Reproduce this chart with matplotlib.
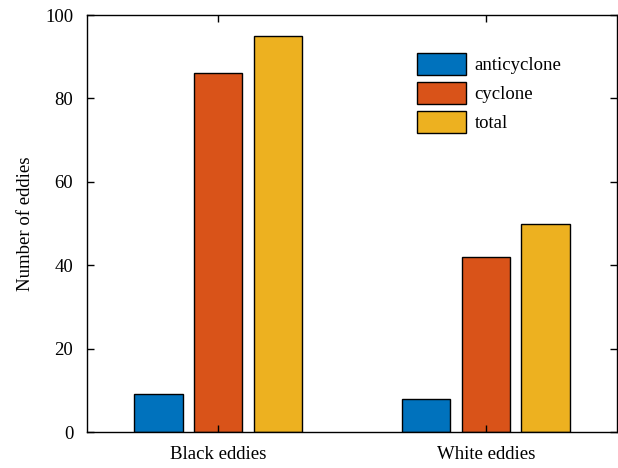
import numpy as np
import matplotlib.pyplot as plt

# eddy counts per group
groups = ["Black eddies", "White eddies"]
anticyclone = [9, 8]
cyclone = [86, 42]
total = [95, 50]

series = [("anticyclone", anticyclone, "#0072BD"),
          ("cyclone", cyclone, "#D95319"),
          ("total", total, "#EDB120")]

plt.rcParams["font.family"] = ["Liberation Serif", "DejaVu Serif"]
plt.rcParams["font.size"] = 13.5

fig = plt.figure(figsize=(6.18, 4.68), dpi=100)
ax = fig.add_axes([0.1408, 0.0769, 0.8576, 0.891])

x = np.arange(1, len(groups) + 1)
width = 0.18
offset = 0.223
for i, (name, vals, col) in enumerate(series):
    ax.bar(x + (i - 1) * offset, vals, width, color=col, edgecolor="black",
           linewidth=1.0, label=name)

ax.set_xlim(0.51, 2.49)
ax.set_ylim(0, 100)
ax.set_xticks(x)
ax.set_xticklabels(groups)
ax.set_yticks(np.arange(0, 101, 20))
ax.set_ylabel("Number of eddies", labelpad=8)
ax.tick_params(direction="in", top=True, right=True, length=5, width=1, pad=10)
for s in ax.spines.values():
    s.set_linewidth(1.0)

ax.legend(loc="upper left", bbox_to_anchor=(0.623, 0.909), frameon=False,
          borderpad=0, borderaxespad=0, handlelength=2.61, handleheight=1.43,
          handletextpad=0.45, labelspacing=0.37)

fig.savefig("out.png", dpi=100)
